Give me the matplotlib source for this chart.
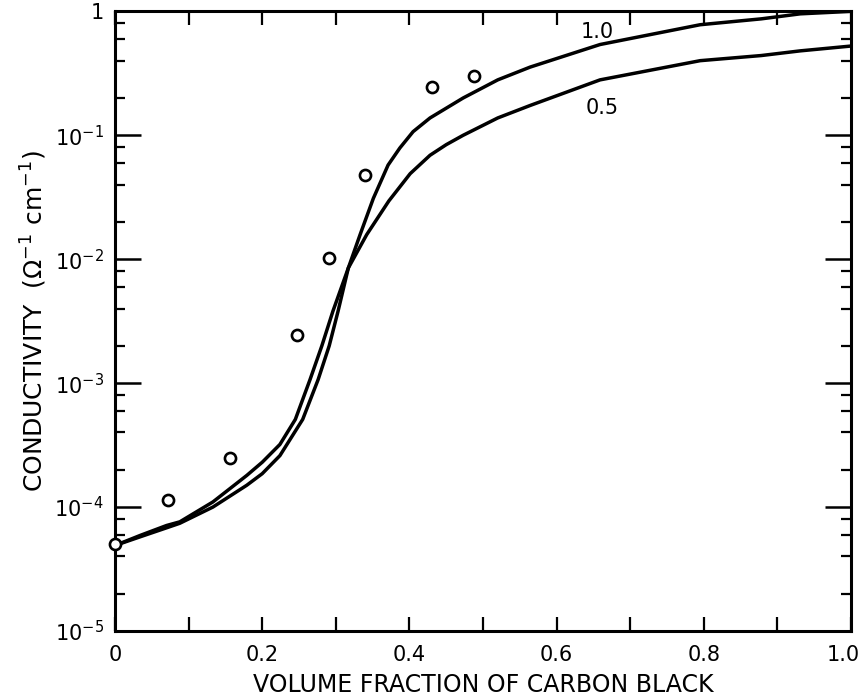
import numpy as np
import matplotlib
matplotlib.use("Agg")
import matplotlib.pyplot as plt
import matplotlib.transforms as mtransforms
from matplotlib.ticker import FixedLocator, LogLocator, NullFormatter

# measured points (open circles)
pts_x = [0.0, 0.072, 0.156, 0.247, 0.291, 0.340, 0.431, 0.488]
pts_y = [5.0e-5, 1.15e-4, 2.5e-4, 2.46e-3, 1.02e-2, 4.8e-2, 0.245, 0.30]

# curve labelled 1.0
c10_x = [0.0, 0.034, 0.07, 0.088, 0.133, 0.179, 0.2, 0.224, 0.255, 0.276, 0.291,
         0.303, 0.317, 0.333, 0.351, 0.371, 0.387, 0.405, 0.428, 0.473, 0.52,
         0.564, 0.659, 0.795, 0.878, 0.931, 1.0]
c10_y = [4.9e-5, 5.75e-5, 6.8e-5, 7.4e-5, 1.0e-4, 1.5e-4, 1.86e-4, 2.6e-4, 5.1e-4,
         1.07e-3, 2.0e-3, 3.8e-3, 8.5e-3, 1.58e-2, 3.1e-2, 5.75e-2, 7.9e-2, 0.107,
         0.138, 0.20, 0.28, 0.355, 0.54, 0.78, 0.87, 0.955, 1.0]

# curve labelled 0.5
c05_x = [0.0, 0.034, 0.07, 0.088, 0.133, 0.179, 0.2, 0.224, 0.245, 0.265, 0.281,
         0.296, 0.317, 0.342, 0.372, 0.401, 0.428, 0.45, 0.473, 0.52, 0.564,
         0.659, 0.795, 0.878, 0.931, 1.0]
c05_y = [4.9e-5, 5.9e-5, 7.1e-5, 7.6e-5, 1.1e-4, 1.8e-4, 2.3e-4, 3.2e-4, 5.1e-4,
         1.07e-3, 2.0e-3, 3.8e-3, 8.5e-3, 1.58e-2, 2.95e-2, 4.9e-2, 6.9e-2, 8.4e-2,
         0.10, 0.138, 0.174, 0.28, 0.40, 0.44, 0.48, 0.525]

x_ticks = [0.0, 0.1, 0.2, 0.3, 0.4, 0.5, 0.6, 0.7, 0.8, 0.9, 1.0]
x_labels = ['0', '', '0.2', '', '0.4', '', '0.6', '', '0.8', '', '1.0']
y_ticks = [1e-5, 1e-4, 1e-3, 1e-2, 1e-1, 1.0]
y_labels = ['$10^{-5}$', '$10^{-4}$', '$10^{-3}$', '$10^{-2}$', '$10^{-1}$', '1']

plt.rcParams['font.family'] = ['DejaVu Sans']
plt.rcParams['mathtext.fontset'] = 'dejavusans'

fig = plt.figure(figsize=(8.61, 6.97), dpi=100)
ax = fig.add_axes([0.1336, 0.0947, 0.8548, 0.889])

ax.plot(c10_x, c10_y, color='black', lw=2.5, solid_capstyle='round', solid_joinstyle='round')
ax.plot(c05_x, c05_y, color='black', lw=2.5, solid_capstyle='round', solid_joinstyle='round')
ax.plot(pts_x, pts_y, 'o', ms=8, mfc='white', mec='black', mew=1.9,
        clip_on=False, zorder=5)

ax.text(0.655, 0.68, '1.0', fontsize=15, ha='center', va='center')
ax.text(0.662, 0.166, '0.5', fontsize=15, ha='center', va='center')

ax.set_yscale('log')
ax.set_xlim(0, 1.0)
ax.set_ylim(1e-5, 1.0)

ax.xaxis.set_major_locator(FixedLocator(x_ticks))
ax.set_xticklabels(x_labels)
ax.yaxis.set_major_locator(FixedLocator(y_ticks))
ax.set_yticklabels(y_labels)
ax.yaxis.set_minor_locator(LogLocator(base=10, subs=[2, 4, 6, 8]))
ax.yaxis.set_minor_formatter(NullFormatter())

ax.tick_params(axis='x', which='major', direction='in', top=True, bottom=True,
               length=10, width=1.6, labelsize=15, pad=10)
ax.tick_params(axis='y', which='major', direction='in', left=True, right=True,
               length=19, width=1.8, labelsize=15, pad=8)
ax.tick_params(axis='y', which='minor', direction='in', left=True, right=True,
               length=7.5, width=1.6)

# last x label sits at the page edge, nudge it in a little
last = ax.get_xticklabels()[-1]
last.set_transform(last.get_transform() + mtransforms.ScaledTranslation(-0.08, 0, fig.dpi_scale_trans))

for s in ax.spines.values():
    s.set_linewidth(2.2)

ax.set_xlabel('VOLUME FRACTION OF CARBON BLACK', fontsize=17, labelpad=6)
ax.set_ylabel('CONDUCTIVITY  ($\\Omega^{-1}\\ \\mathrm{cm}^{-1}$)', fontsize=18, labelpad=4)

fig.savefig('out.png', dpi=100)
